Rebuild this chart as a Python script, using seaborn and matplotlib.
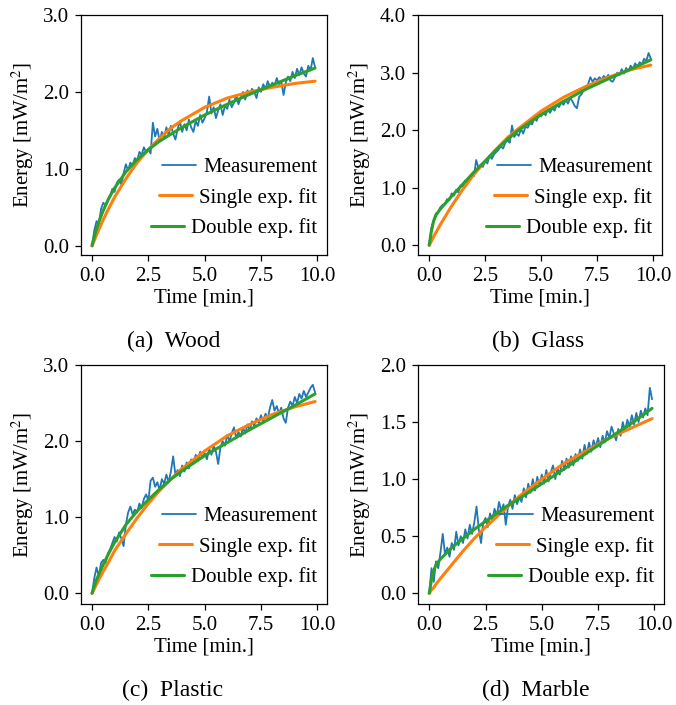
import numpy as np
import pandas as pd
import matplotlib
matplotlib.use("Agg")
import matplotlib.pyplot as plt
import seaborn as sns

# ---------------- data ----------------
t_meas = np.round(np.arange(100) * 0.1, 1)          # sampling times [min]
t_fit = [0, 0.1, 0.2, 0.3, 0.5, 0.75, 1, 1.5, 2, 2.5, 3, 3.5, 4, 5, 6, 7, 8, 9, 9.9]

wood_meas = [0.00, 0.20, 0.32, 0.28, 0.48, 0.56, 0.52, 0.60, 0.64, 0.74,
             0.70, 0.82, 0.86, 0.80, 0.94, 1.06, 0.98, 1.08, 1.04, 1.14,
             1.10, 1.22, 1.18, 1.28, 1.22, 1.26, 1.20, 1.60, 1.42, 1.52,
             1.36, 1.48, 1.40, 1.54, 1.44, 1.56, 1.46, 1.38, 1.52, 1.62,
             1.48, 1.58, 1.50, 1.64, 1.54, 1.48, 1.62, 1.56, 1.70, 1.60,
             1.66, 1.74, 1.94, 1.72, 1.80, 1.66, 1.76, 1.84, 1.70, 1.82,
             1.78, 1.90, 1.80, 1.86, 1.96, 1.84, 1.92, 2.00, 1.90, 2.02,
             1.96, 2.04, 2.00, 1.92, 2.06, 2.00, 2.10, 2.04, 2.14, 2.06,
             2.12, 2.08, 2.18, 2.10, 2.14, 1.96, 2.12, 2.20, 2.14, 2.26,
             2.18, 2.30, 2.22, 2.32, 2.24, 2.20, 2.34, 2.28, 2.44, 2.32]
wood_single = [0, 0.07, 0.14, 0.21, 0.34, 0.49, 0.63, 0.87, 1.08, 1.25, 1.40,
               1.53, 1.63, 1.80, 1.92, 2.00, 2.06, 2.11, 2.14]
wood_double = [0, 0.12, 0.22, 0.31, 0.46, 0.62, 0.75, 0.96, 1.12, 1.25, 1.36,
               1.45, 1.54, 1.70, 1.84, 1.97, 2.09, 2.21, 2.31]

glass_meas = [0.00, 0.30, 0.44, 0.55, 0.58, 0.66, 0.70, 0.72, 0.80, 0.78,
              0.90, 0.86, 0.96, 0.92, 1.04, 1.02, 1.12, 1.08, 1.16, 1.24,
              1.20, 1.48, 1.34, 1.40, 1.36, 1.46, 1.42, 1.56, 1.50, 1.58,
              1.62, 1.66, 1.72, 1.68, 1.78, 1.82, 1.78, 2.08, 1.88, 1.94,
              1.90, 2.02, 1.94, 2.06, 2.04, 2.12, 2.10, 2.22, 2.16, 2.28,
              2.24, 2.30, 2.26, 2.36, 2.30, 2.38, 2.34, 2.44, 2.40, 2.48,
              2.44, 2.52, 2.46, 2.56, 2.50, 2.42, 2.38, 2.58, 2.62, 2.70,
              2.74, 2.80, 2.92, 2.84, 2.90, 2.86, 2.92, 2.88, 2.94, 2.90,
              2.96, 2.86, 2.84, 2.92, 3.00, 2.96, 3.06, 2.98, 3.08, 3.02,
              3.12, 3.06, 3.16, 3.10, 3.18, 3.14, 3.24, 3.20, 3.34, 3.24]
glass_single = [0, 0.07, 0.15, 0.22, 0.36, 0.52, 0.68, 0.97, 1.23, 1.46, 1.67,
                1.87, 2.03, 2.33, 2.57, 2.76, 2.92, 3.05, 3.13]
glass_double = [0, 0.25, 0.42, 0.52, 0.63, 0.74, 0.85, 1.06, 1.27, 1.46, 1.66,
                1.84, 2.00, 2.27, 2.50, 2.71, 2.89, 3.06, 3.22]

plastic_meas = [0.00, 0.20, 0.34, 0.22, 0.40, 0.44, 0.40, 0.52, 0.58, 0.66,
                0.74, 0.68, 0.80, 0.72, 0.62, 0.90, 1.06, 1.14, 1.04, 1.10,
                1.06, 1.18, 1.12, 1.24, 1.30, 1.22, 1.48, 1.52, 1.40, 1.46,
                1.36, 1.50, 1.44, 1.56, 1.46, 1.60, 1.80, 1.56, 1.62, 1.54,
                1.68, 1.60, 1.72, 1.64, 1.76, 1.70, 1.82, 1.74, 1.86, 1.78,
                1.84, 1.76, 1.90, 1.82, 1.94, 1.86, 1.70, 1.92, 2.00, 1.94,
                2.08, 2.00, 2.10, 2.18, 2.04, 2.12, 2.06, 2.18, 2.10, 2.22,
                2.14, 2.26, 2.20, 2.30, 2.24, 2.34, 2.26, 2.36, 2.30, 2.44,
                2.54, 2.40, 2.46, 2.36, 2.44, 2.30, 2.24, 2.44, 2.52, 2.46,
                2.58, 2.50, 2.62, 2.56, 2.66, 2.58, 2.64, 2.70, 2.74, 2.64]
plastic_single = [0, 0.06, 0.12, 0.18, 0.29, 0.42, 0.56, 0.78, 0.99, 1.18, 1.35,
                  1.50, 1.64, 1.87, 2.07, 2.22, 2.35, 2.45, 2.52]
plastic_double = [0, 0.10, 0.18, 0.25, 0.38, 0.53, 0.67, 0.90, 1.08, 1.23, 1.37,
                  1.50, 1.61, 1.81, 1.98, 2.15, 2.31, 2.47, 2.62]

marble_meas = [0.00, 0.22, 0.10, 0.28, 0.22, 0.36, 0.52, 0.34, 0.40, 0.32,
               0.44, 0.38, 0.54, 0.42, 0.50, 0.44, 0.56, 0.48, 0.60, 0.52,
               0.62, 0.76, 0.56, 0.44, 0.62, 0.66, 0.58, 0.70, 0.64, 0.74,
               0.68, 0.80, 0.72, 0.78, 0.60, 0.76, 0.82, 0.74, 0.86, 0.78,
               0.84, 0.80, 0.92, 0.84, 0.96, 0.88, 1.00, 0.90, 1.02, 0.94,
               1.04, 0.96, 1.08, 0.98, 1.06, 1.12, 1.00, 1.10, 1.04, 1.16,
               1.08, 1.18, 1.10, 1.20, 1.12, 1.22, 1.16, 1.26, 1.18, 1.30,
               1.22, 1.32, 1.24, 1.34, 1.28, 1.36, 1.28, 1.38, 1.32, 1.42,
               1.36, 1.46, 1.40, 1.34, 1.44, 1.38, 1.50, 1.42, 1.52, 1.46,
               1.56, 1.48, 1.58, 1.50, 1.60, 1.54, 1.62, 1.56, 1.80, 1.70]
marble_single = [0, 0.03, 0.05, 0.08, 0.13, 0.19, 0.25, 0.37, 0.48, 0.58, 0.67,
                 0.76, 0.85, 1.00, 1.14, 1.25, 1.36, 1.45, 1.53]
marble_double = [0, 0.12, 0.20, 0.25, 0.30, 0.35, 0.40, 0.48, 0.56, 0.63, 0.70,
                 0.77, 0.83, 0.96, 1.09, 1.23, 1.36, 1.49, 1.62]

captions = ["(a)  Wood", "(b)  Glass", "(c)  Plastic", "(d)  Marble"]
yticks = [[0.0, 1.0, 2.0, 3.0], [0.0, 1.0, 2.0, 3.0, 4.0],
          [0.0, 1.0, 2.0, 3.0], [0.0, 0.5, 1.0, 1.5, 2.0]]
xticks = [0.0, 2.5, 5.0, 7.5, 10.0]

# ---------------- style ----------------
sns.set_theme(style="ticks")
plt.rcParams.update({
    "font.family": ["Liberation Serif", "DejaVu Serif"],
    "mathtext.fontset": "stix",
    "font.size": 15,
    "axes.labelsize": 15,
    "xtick.labelsize": 15,
    "ytick.labelsize": 15,
    "legend.fontsize": 15,
    "axes.edgecolor": "black",
    "axes.linewidth": 0.9,
    "xtick.color": "black",
    "ytick.color": "black",
    "xtick.major.size": 4.2,
    "ytick.major.size": 4.2,
    "xtick.major.width": 0.9,
    "ytick.major.width": 0.9,
    "xtick.major.pad": 4.5,
    "ytick.major.pad": 4.5,
    "axes.labelcolor": "black",
    "text.color": "black",
})

W, H = 676, 705
fig = plt.figure(figsize=(W / 100, H / 100), dpi=100)

# pixel boxes (left, top, right, bottom)
boxes = [(81, 15, 327, 255), (418, 15, 662, 255),
         (81, 365, 327, 604), (418, 365, 664, 604)]
ylims = [(-0.12, 3.0), (-0.17, 4.0), (-0.14, 3.0), (-0.094, 2.0)]
xlims = [(-0.49, 10.43), (-0.50, 10.40), (-0.49, 10.43), (-0.50, 10.43)]
cap_pos = [(174, 341), (538, 341), (173, 690), (536, 690)]

meas_all = [wood_meas, glass_meas, plastic_meas, marble_meas]
single_all = [wood_single, glass_single, plastic_single, marble_single]
double_all = [wood_double, glass_double, plastic_double, marble_double]

blue, orange, green = "#1f77b4", "#ff7f0e", "#2ca02c"

for i in range(4):
    l, t, r, b = boxes[i]
    ax = fig.add_axes([l / W, 1 - b / H, (r - l) / W, (b - t) / H])
    dm = pd.DataFrame({"t": t_meas, "E": meas_all[i]})
    df = pd.DataFrame({"t": t_fit, "single": single_all[i], "double": double_all[i]})
    sns.lineplot(data=dm, x="t", y="E", ax=ax, color=blue, lw=1.3,
                 label="Measurement", sort=False, estimator=None)
    sns.lineplot(data=df, x="t", y="single", ax=ax, color=orange, lw=2.2,
                 label="Single exp. fit", sort=False, estimator=None)
    sns.lineplot(data=df, x="t", y="double", ax=ax, color=green, lw=2.2,
                 label="Double exp. fit", sort=False, estimator=None)
    ax.set_xlim(*xlims[i])
    ax.set_ylim(*ylims[i])
    ax.set_xticks(xticks)
    ax.set_xticklabels([f"{v:.1f}" for v in xticks])
    ax.set_yticks(yticks[i])
    ax.set_yticklabels([f"{v:.1f}" for v in yticks[i]])
    ax.set_xlabel("Time [min.]", labelpad=2)
    ax.set_ylabel(r"Energy [mW/m$^2$]", labelpad=5)
    leg = ax.legend(loc="lower right", frameon=False, handlelength=1.6,
                    handletextpad=0.35, labelspacing=0.5,
                    borderaxespad=0.3, bbox_to_anchor=(1.02, 0.01))
    for col in leg._legend_handle_box.get_children():
        col.align = "right"
    fig.text(cap_pos[i][0] / W, 1 - cap_pos[i][1] / H, captions[i],
             ha="center", va="center", fontsize=17)

fig.savefig("out.png", dpi=100)
